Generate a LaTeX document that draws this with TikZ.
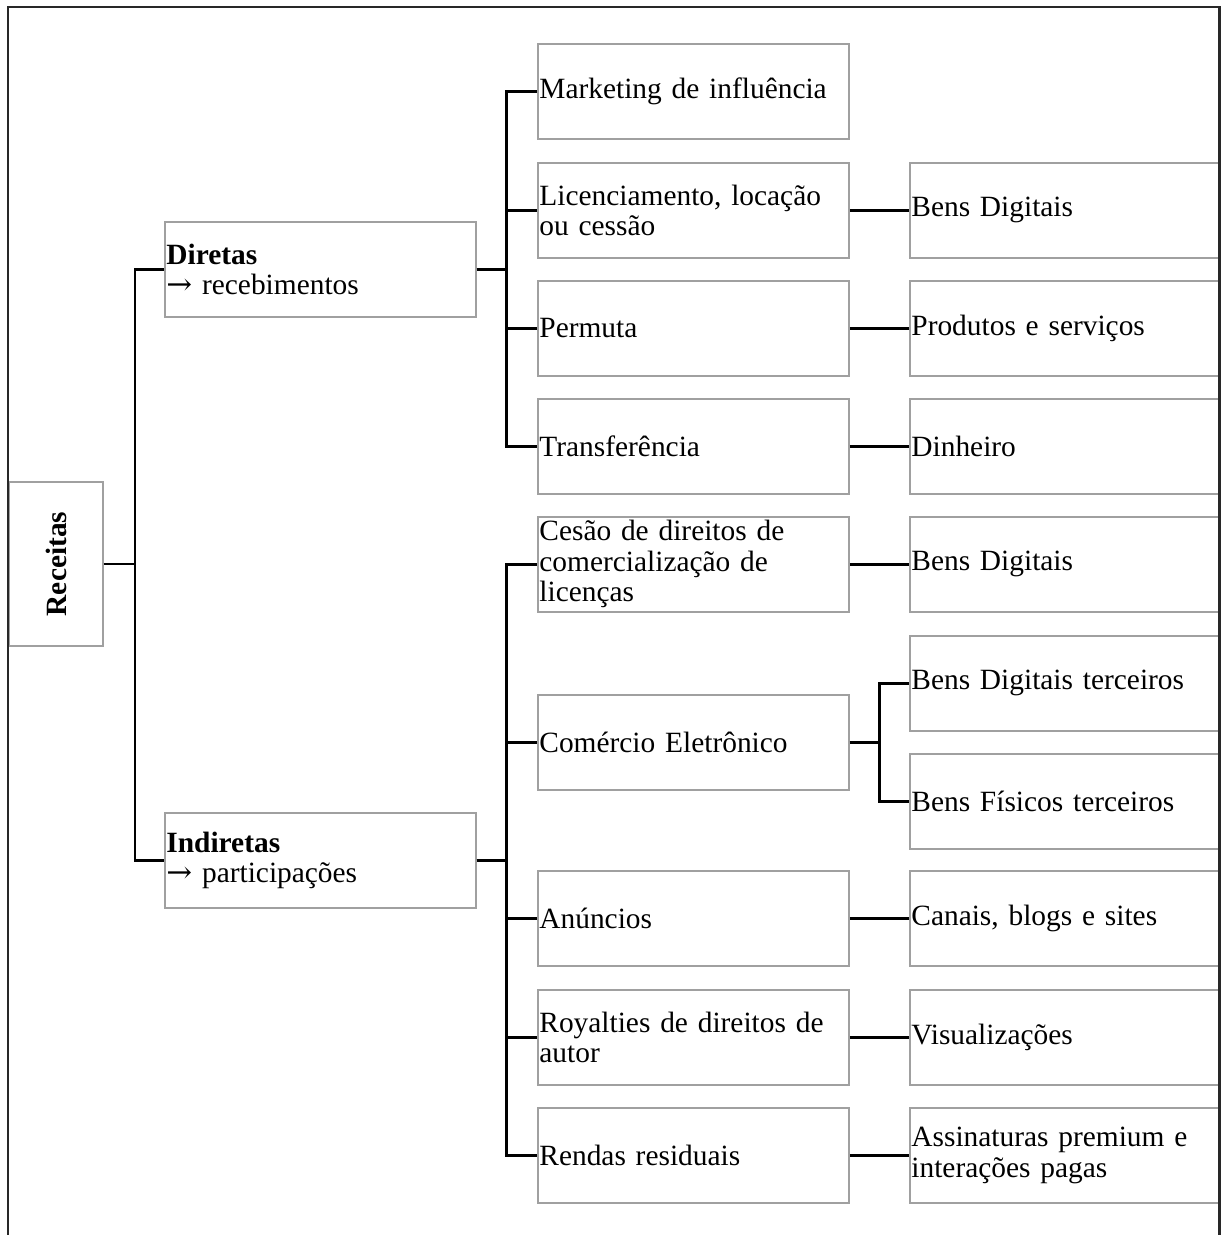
\documentclass[tikz,border=0pt]{standalone}
\usepackage{fontspec}
\usepackage{graphicx}
\setmainfont{Liberation Serif}
\newfontfamily\arrowfont{DejaVu Serif}
\definecolor{boxgray}{RGB}{160,160,160}
\definecolor{framec}{RGB}{40,40,40}
\newcommand{\myarrow}{{\arrowfont\scalebox{1.05}[1]{→}}}
\begin{document}
\begin{tikzpicture}[x=1pt,y=-1pt,
  box/.style={draw=boxgray, line width=1.8pt, rectangle, inner xsep=1.5pt, inner ysep=0pt,
    text width=308pt, minimum height=95pt, align=left, anchor=north west,
    font=\fontsize{29.4}{30.5}\selectfont},
  rbox/.style={draw=boxgray, line width=1.8pt, rectangle, inner sep=0pt,
    minimum width=94pt, minimum height=164pt,
    font=\fontsize{29.4}{30.5}\selectfont\bfseries},
  conn/.style={draw=black, line width=2.7pt},
  frame/.style={draw=framec, line width=2.5pt}]
\useasboundingbox (0,0) rectangle (1221,1235);
% root
\node[rbox] (rec) at (56,564) {\rotatebox{90}{Receitas}};
% level 1
\node[box] (dir) at (164,221) {\textbf{Diretas}\\\myarrow{} recebimentos};
\node[box] (ind) at (164,812) {\textbf{Indiretas}\\\myarrow{} participações};
% level 2
\node[box] (m1) at (537,43) {Marketing de influência};
\node[box] (m2) at (537,162) {Licenciamento, locação\\ou cessão};
\node[box] (m3) at (537,280) {Permuta};
\node[box] (m4) at (537,398) {Transferência};
\node[box] (m5) at (537,516) {Cesão de direitos de\\comercialização de\\licenças};
\node[box] (m6) at (537,694) {Comércio Eletrônico};
\node[box] (m7) at (537,870) {Anúncios};
\node[box] (m8) at (537,989) {Royalties de direitos de\\autor};
\node[box] (m9) at (537,1107) {Rendas residuais};
% level 3
\node[box] (r2) at (909,162) {Bens Digitais};
\node[box] (r3) at (909,280) {Produtos e serviços};
\node[box] (r4) at (909,398) {Dinheiro};
\node[box] (r5) at (909,516) {Bens Digitais};
\node[box] (r6a) at (909,635) {Bens Digitais terceiros};
\node[box] (r6b) at (909,753) {Bens Físicos terceiros};
\node[box] (r7) at (909,870) {Canais, blogs e sites};
\node[box] (r8) at (909,989) {Visualizações};
\node[box] (r9) at (909,1107) {Assinaturas premium e\\interações pagas};
% connectors root
\foreach \t in {dir,ind}
  \draw[conn] (rec.east) -- ([xshift=31pt]rec.east) |- (\t.west);
\foreach \t in {m1,m2,m3,m4}
  \draw[conn] (dir.east) -- ([xshift=30pt]dir.east) |- (\t.west);
\foreach \t in {m5,m6,m7,m8,m9}
  \draw[conn] (ind.east) -- ([xshift=30pt]ind.east) |- (\t.west);
\draw[conn] (m2.east) -- (r2.west);
\draw[conn] (m3.east) -- (r3.west);
\draw[conn] (m4.east) -- (r4.west);
\draw[conn] (m5.east) -- (r5.west);
\foreach \t in {r6a,r6b}
  \draw[conn] (m6.east) -- ([xshift=30pt]m6.east) |- (\t.west);
\draw[conn] (m7.east) -- (r7.west);
\draw[conn] (m8.east) -- (r8.west);
\draw[conn] (m9.east) -- (r9.west);
% frame
\draw[frame] (8,1236) -- (8,7) -- (1219.5,7) -- (1219.5,1236);
\end{tikzpicture}
\end{document}
